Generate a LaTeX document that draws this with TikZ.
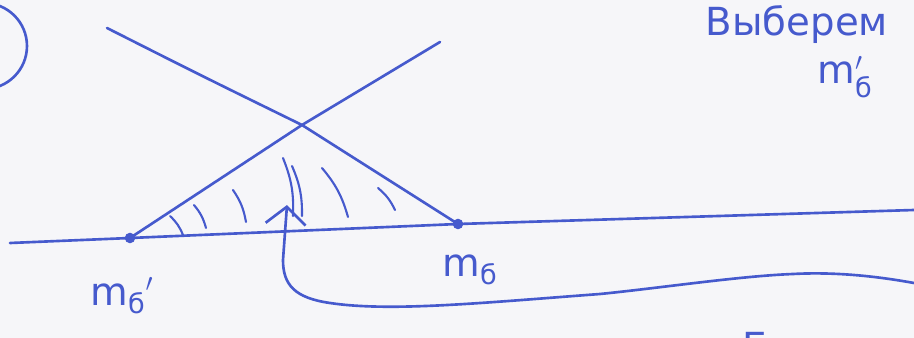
\documentclass[tikz,border=0pt]{standalone}
\usepackage{amsmath}
\usepackage{fontspec}
\setmainfont{DejaVu Sans}
\usetikzlibrary{arrows.meta}
\definecolor{ink}{RGB}{70,90,205}
\definecolor{paper}{RGB}{246,246,249}

\begin{document}
\begin{tikzpicture}[x=0.02cm, y=-0.02cm,
    pen/.style={draw=ink, line width=1.5pt, line cap=round},
    hatch/.style={draw=ink, line width=1.2pt, line cap=round},
    pt/.style={circle, fill=ink, inner sep=0pt, minimum size=6pt},
    lbl/.style={text=ink, inner sep=1pt, font=\fontsize{22}{24}\selectfont},
    note/.style={text=ink, inner sep=1pt, font=\fontsize{22}{24}\selectfont},
    ptr/.style={pen, -{Straight Barb[length=3.5mm, width=8mm, line width=1.5pt]}}]

    \fill[paper] (0,0) rectangle (914,338);
    \useasboundingbox (0,0) rectangle (914,338);

    % circled number, cut off by the edge
    \draw[pen] (-16,46) circle[radius=0.86cm];

    \node[pt] (mb1) at (130,238) {};
    \node[pt] (mb)  at (458,224) {};
    \coordinate (base-l) at (10,243);
    \coordinate (base-r) at (914,210);
    \coordinate (cross)  at (302,125);
    \coordinate (up-r)   at (440,42);
    \coordinate (up-l)   at (107,28);

    \draw[pen] (base-l) -- (mb1.center) -- (mb.center) -- (base-r);
    \draw[pen] (mb1.center) -- (cross) -- (up-r);
    \draw[pen] (up-l) .. controls (200,75) .. (cross) -- (mb.center);

    % hatching of the triangle
    \foreach \x/\y/\u/\v in {170/216/183/235, 194/205/206/228, 233/190/246/222,
                             283/158/293/216, 292/166/302/216, 322/168/348/217,
                             378/188/395/210}
      \draw[hatch] (\x,\y) to[bend left=12] (\u,\v);

    \node[lbl] (lbl-mb1) at (122,296) {$\text{m}_{\text{б}}{}'$};
    \node[lbl] (lbl-mb)  at (470,270) {$\text{m}_{\text{б}}$};

    \node[note] (pick) at (797,25) {Выберем};
    \node[lbl] (pick-m) at (845,77) {$\text{m}'_{\text{б}}$};
    \node[note, anchor=north west] (cut) at (740,330) {Б};

    \coordinate (tail) at (914,283);
    \coordinate (tip)  at (287,205);
    \draw[ptr] (tail) .. controls (870,275) and (830,272) .. (793,274)
               .. controls (740,276) and (660,288) .. (600,294)
               .. controls (480,303) and (390,312) .. (330,303)
               .. controls (295,298) and (283,285) .. (283,260) -- (tip);
\end{tikzpicture}
\end{document}
